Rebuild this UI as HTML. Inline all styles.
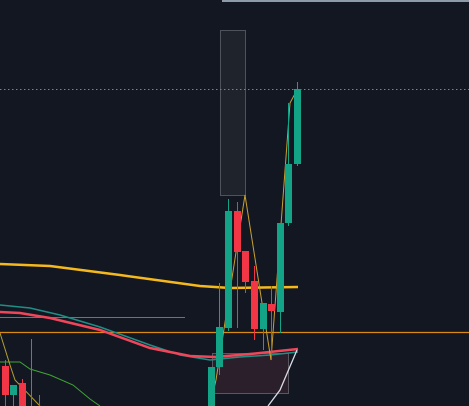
<!DOCTYPE html>
<html><head><meta charset="utf-8"><style>
html,body{margin:0;padding:0;background:#131722;}
svg{display:block}
</style></head><body>
<svg id="chart" width="469" height="406" viewBox="0 0 469 406" xmlns="http://www.w3.org/2000/svg">
<rect x="0" y="0" width="469" height="406" fill="#131722"/>
<line x1="222" y1="1" x2="469" y2="1" stroke="#8d9aa8" stroke-width="2"/>
<rect x="220.5" y="30.5" width="25" height="165" fill="#1f232c" stroke="#4e525b"/>
<line x1="0" y1="89.5" x2="469" y2="89.5" stroke="#22a9a0" stroke-dasharray="1.5,2.5"/>
<rect x="212.5" y="353.5" width="76" height="40" fill="#2a1f2b" stroke="#5a5660"/>
<g id="lines"></g>
<g id="candles"></g>
</svg>
<script>
// price scale: value = pixel distance from bottom
const candleX = [5,13,22,31,39,211,219,228,237,245,254,263,271,280,288,297];
const opens  = [40,11,23,0,11,0,39,78,195,155,125,77,102,94,183,242];
const closes = [11,21,0,1,10,39,79,195,154,124,77,103,95,183,242,317];
const highs  = [46,21,27,67,11,0,123,207,204,155,140,103,120,183,303,324];
const lows   = [0,0,0,0,0,0,31,75,78,113,66,56,46,73,180,240];
const yellowPts=[[0,142],[50,140],[120,131],[200,120],[230,118],[298,119]];
const tealPts=[[0,101],[30,98],[60,91],[100,79],[150,61],[180,51],[210,46],[240,49],[270,51],[298,54]];
const redPts=[[0,94],[20,93],[50,88],[100,76],[150,58],[190,50],[215,49],[250,52],[298,57]];
const greenPts=[[0,44],[20,44],[30,37],[50,31],[73,21],[90,7],[100,0]];
const oliveA=[[0,73],[10,41],[15,26],[40,0]];
const oliveB=[[210,0],[216,26],[245,211],[271,46],[290,303],[297,316]];
const whitePts=[[268,0],[280,16],[297,56]];
const levelOrange=74, levelRed=89;
const H=406;
const y=v=>H-v;
const NS='http://www.w3.org/2000/svg';
const lg=document.getElementById('lines'), cg=document.getElementById('candles');
function hline(v,x1,x2,col,w,name){const l=document.createElementNS(NS,'line');
l.setAttribute('x1',x1);l.setAttribute('x2',x2);l.setAttribute('y1',y(v)+.5);l.setAttribute('y2',y(v)+.5);
l.setAttribute('stroke',col);l.setAttribute('stroke-width',w);


lg.appendChild(l);}
function poly(pts,col,w,name){const p=document.createElementNS(NS,'polyline');
p.setAttribute('points',pts.map(q=>q[0]+','+y(q[1])).join(' '));
p.setAttribute('fill','none');p.setAttribute('stroke',col);p.setAttribute('stroke-width',w);


lg.appendChild(p);}
hline(levelRed,0,185,'#e0404f',1,'red-level-line');
hline(levelOrange,0,469,'#d98a14',1.3,'orange-level-line');
poly(greenPts,'#3fa535',1,'green-ma-line');
poly(tealPts,'#1f8f86',1.5,'teal-ma-line');
poly(redPts,'#f0465a',2.5,'red-ma-line');
poly(yellowPts,'#f5b91e',2.5,'yellow-ma-line');
poly(whitePts,'#d8dce4',1.3,'white-curve-line');
candleX.forEach((x,i)=>{
 const up=closes[i]>=opens[i], col=up?'#13a386':'#f23645';
 const g=document.createElementNS(NS,'g');
 
 
 const w=document.createElementNS(NS,'line');
 w.setAttribute('x1',x+.5);w.setAttribute('x2',x+.5);w.setAttribute('y1',y(highs[i]));w.setAttribute('y2',y(lows[i]));
 w.setAttribute('stroke',col);w.setAttribute('stroke-width',1);
 
 
 g.appendChild(w);
 const r=document.createElementNS(NS,'rect');
 const top=y(Math.max(opens[i],closes[i])), bot=y(Math.min(opens[i],closes[i]));
 const bw=(bot-top)<=1?1:7;
 r.setAttribute('x',bw===1?x:x-3);r.setAttribute('width',bw);r.setAttribute('y',top);r.setAttribute('height',Math.max(1,bot-top));
 r.setAttribute('fill',col);
 
 
 g.appendChild(r);
 cg.appendChild(g);
});
poly(oliveA,'#b5a030',1,'olive-zigzag-left');
poly(oliveB,'#c9a030',1,'olive-zigzag-right');
</script>
</body></html>
